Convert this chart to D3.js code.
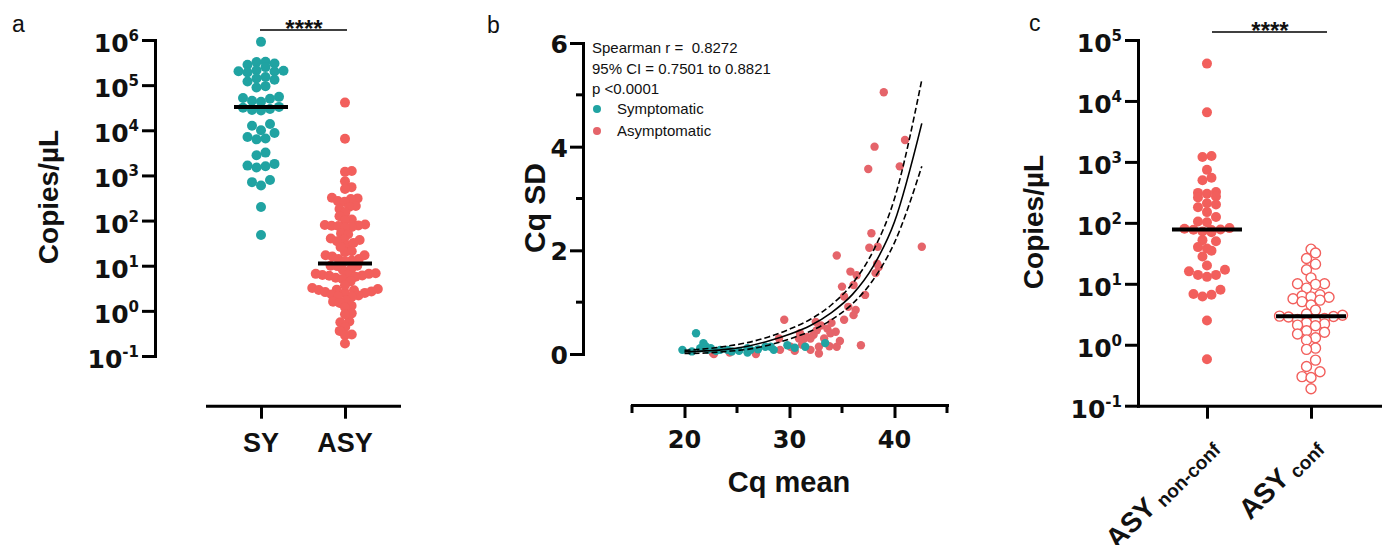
<!DOCTYPE html>
<html>
<head>
<meta charset="utf-8">
<script src="https://cdn.jsdelivr.net/npm/d3@7"></script>
<style>
body { margin: 0; background: #fff; }
text { font-family: "Liberation Sans", Arial, sans-serif; fill: #111; }
.num { font-family: "DejaVu Sans", sans-serif; font-weight: bold; }
</style>
</head>
<body>
<div id="viz"></div>
<script>
var width = 1387, height = 545;
var teal = "#20a3a2", red = "#f25f5c", redB = "#e5646a";

// ---- panel a: copies per uL, symptomatic vs asymptomatic
var groupsA = ["SY", "ASY"];
var decadesA = [-1, 0, 1, 2, 3, 4, 5, 6];
var syCopies = [910000, 331000, 324000, 302000, 282000, 251000, 214000, 209000, 204000, 200000,
    191000, 151000, 141000, 132000, 120000, 95000, 89000, 55000, 52000, 50000,
    45000, 43000, 33000, 31600, 29500, 28200, 27500, 13800, 12600, 10000,
    8700, 7100, 6600, 6300, 3200, 2800, 1800, 1650, 1600, 1500,
    790, 710, 600, 200, 48];

// ---- panel c: asymptomatic split (a's ASY group is both of these together)
var groupsC = ["non-conf", "conf"];
var decadesC = [-1, 0, 1, 2, 3, 4, 5];
var asyNonConf = [41000, 6500, 1250, 1200, 740, 550, 500, 320, 310, 300,
    270, 260, 210, 200, 180, 150, 125, 105, 102, 82,
    80, 78, 77, 76, 72, 70, 52, 50, 40, 38,
    35, 28, 20, 17, 16, 14, 14, 13, 8, 6.8,
    6.6, 6.2, 2.5, 0.58];
var asyConf = [37, 32, 26, 21, 17, 12.5, 10, 10, 9.8, 8.5,
    6.6, 6.3, 6.1, 6, 5.7, 5.4, 5.1, 4.5, 3.7, 3.2,
    3.05, 2.95, 2.9, 2.85, 2.7, 2.6, 2.5, 2.3, 2.2, 2.1,
    2.05, 1.7, 1.6, 1.5, 1.3, 1.2, 0.88, 0.84, 0.56, 0.44,
    0.36, 0.3, 0.29, 0.19];

// ---- panel b: Cq mean vs Cq SD
var symCq = [19.8, 20.7, 21.1, 21.5, 21.8, 22.0, 22.2, 22.5, 23.0, 23.4, 24.1, 24.5, 25.2, 26.0, 26.0, 26.3, 27.0, 27.7, 28.2, 28.5, 29.8, 30.5, 31.5, 33.4];
var symSd = [0.08, 0.05, 0.40, 0.11, 0.21, 0.15, 0.08, 0.11, 0.06, 0.08, 0.08, 0.05, 0.06, 0.11, 0.03, 0.08, 0.09, 0.14, 0.14, 0.08, 0.17, 0.12, 0.14, 0.21];
var asymCq = [38.98, 41.0, 38.1, 37.5, 40.5, 37.8, 37.6, 38.4, 42.6, 34.5, 38.35, 38.5, 38.2, 35.8, 36.4, 35.0, 36.1, 35.2, 37.2, 35.6,
    36.3, 36.1, 35.2, 29.5, 32.5, 32.6, 33.6, 33.9, 34.4, 31.0, 31.4, 30.9, 31.7, 32.3, 29.0, 32.0, 36.8, 34.5, 32.8, 32.0,
    32.8, 30.1, 29.1, 26.8, 22.8, 33.3, 22.7, 24.3, 33.0, 34.0, 34.8, 33.8, 31.2, 30.5];
var asymSd = [5.05, 4.13, 4.0, 3.57, 3.62, 2.33, 2.05, 2.07, 2.07, 1.9, 1.74, 1.68, 1.56, 1.59, 1.52, 1.3, 1.33, 1.11, 1.14, 0.91,
    0.85, 0.75, 0.66, 0.66, 0.62, 0.46, 0.49, 0.40, 0.43, 0.40, 0.30, 0.30, 0.33, 0.37, 0.30, 0.30, 0.17, 0.14, 0.14, 0.08,
    0.01, 0.14, 0.08, 0.0, 0.0, 0.30, 0.02, 0.03, 0.55, 0.60, 0.25, 0.15, 0.18, 0.06];
// fitted curve and its 95% band
var fitCq = [20, 22, 24, 26, 28, 30, 32, 34, 36, 38, 40, 42.6];
var fitSd = [0.04, 0.06, 0.09, 0.15, 0.25, 0.38, 0.55, 0.8, 1.15, 1.7, 2.55, 4.45];
var upperSd = [0.07, 0.10, 0.15, 0.22, 0.33, 0.48, 0.67, 0.95, 1.36, 2.0, 3.0, 5.29];
var lowerSd = [0.01, 0.02, 0.05, 0.09, 0.17, 0.29, 0.44, 0.66, 0.97, 1.44, 2.15, 3.62];
var statLines = ["Spearman r =\u00a0 0.8272", "95% CI = 0.7501 to 0.8821", "p <0.0001"];
var legendNames = ["Symptomatic", "Asymptomatic"];
var xMajorB = [20, 30, 40], xMinorB = [15, 25, 35, 45];
var yMajorB = [0, 2, 4, 6], yMinorB = [1, 3, 5];

var svg = d3.select("#viz").append("svg").attr("width", width).attr("height", height);
svg.append("rect").attr("width", width).attr("height", height).attr("fill", "#fff");

// rows of dots like a column scatter: points within one bin sit side by side
function rowLayout(ys, binH, sp) {
    var idx = d3.range(ys.length).sort(function (a, b) { return ys[b] - ys[a]; });
    var xs = new Array(ys.length);
    var row = [], y0 = null;
    function flush() {
        var n = row.length;
        var slots = d3.range(n).map(function (k) { return (k - (n - 1) / 2) * sp; });
        slots.sort(function (a, b) { return Math.abs(a) - Math.abs(b) || a - b; });
        row.forEach(function (i, k) { xs[i] = slots[k]; });
        row = [];
    }
    idx.forEach(function (i) {
        if (y0 === null || y0 - ys[i] >= binH) { flush(); y0 = ys[i]; }
        row.push(i);
    });
    flush();
    return xs;
}

// packed swarm: each dot goes to the free spot nearest the centre
function beeswarm(ys, d) {
    var order = d3.range(ys.length).sort(function (a, b) { return ys[b] - ys[a]; });
    var placed = [], xs = new Array(ys.length);
    order.forEach(function (i) {
        var y = ys[i];
        var near = placed.filter(function (p) { return Math.abs(p.y - y) < d; });
        var cands = [0];
        near.forEach(function (p) {
            var dx = Math.sqrt(d * d - (p.y - y) * (p.y - y));
            cands.push(p.x + dx, p.x - dx);
        });
        cands.sort(function (a, b) { return Math.abs(a) - Math.abs(b); });
        var x = cands.find(function (c) {
            return near.every(function (p) { return (p.x - c) * (p.x - c) + (p.y - y) * (p.y - y) >= d * d - 0.01; });
        });
        xs[i] = x;
        placed.push({x: x, y: y});
    });
    return xs;
}

function styleAxis(g) {
    g.select(".domain").attr("stroke-width", 3).attr("stroke-linecap", "square");
    g.selectAll(".tick line").attr("stroke-width", 3);
}

function logLabels(g, y, decades, axisX) {
    g.selectAll(".lab").data(decades).enter().append("text")
        .attr("class", "num")
        .attr("x", axisX - 16)
        .attr("y", function (d) { return y(Math.pow(10, d)) + 12; })
        .attr("text-anchor", "end")
        .each(function (d) {
            var t = d3.select(this);
            t.append("tspan").style("font-size", "25px").text("10");
            t.append("tspan").attr("dy", -11).style("font-size", "15px").text(d);
        });
}

function dotColumn(g, values, x, y, name, offsets, r, fill, open) {
    g.selectAll(null).data(values).enter().append("circle")
        .attr("cx", function (d, i) { return x(name) + offsets[i]; })
        .attr("cy", function (d) { return y(d); })
        .attr("r", r)
        .attr("fill", open ? "#fff" : fill)
        .attr("stroke", open ? fill : "none")
        .attr("stroke-width", open ? 1.4 : 0);
}

function medianLine(g, values, x, y, name, half) {
    var m = d3.median(values);
    g.append("line")
        .attr("x1", x(name) - half).attr("x2", x(name) + half)
        .attr("y1", y(m)).attr("y2", y(m))
        .attr("stroke", "#000").attr("stroke-width", 4);
}

function sigBar(g, x1, x2, yy, mid) {
    g.append("line").attr("x1", x1).attr("x2", x2).attr("y1", yy).attr("y2", yy)
        .attr("stroke", "#000").attr("stroke-width", 1.5);
    g.append("text").attr("x", mid).attr("y", yy + 7).attr("text-anchor", "middle")
        .style("font-size", "24px").style("font-weight", "bold").text("****");
}

// ================= panel a
var gA = svg.append("g");
var yA = d3.scaleLog().domain([0.1, 1e6]).range([356, 40]);
var xA = d3.scalePoint().domain(groupsA).range([207, 399]).padding(0.643);
var asyAll = asyNonConf.concat(asyConf);

gA.append("g").attr("transform", "translate(155,0)")
    .call(d3.axisLeft(yA).tickValues(decadesA.map(function (k) { return Math.pow(10, k); }))
        .tickFormat("").tickSize(13).tickSizeOuter(0))
    .call(styleAxis);
logLabels(gA, yA, decadesA, 155);

gA.append("g").attr("transform", "translate(0,405.7)")
    .call(d3.axisBottom(xA).tickFormat("").tickSize(13).tickSizeOuter(0))
    .call(styleAxis);
gA.selectAll(".xl").data(groupsA).enter().append("text")
    .attr("x", function (d) { return xA(d); }).attr("y", 452)
    .attr("text-anchor", "middle").style("font-size", "27px").style("font-weight", "bold")
    .text(function (d) { return d; });

gA.append("text").attr("transform", "translate(58,197) rotate(-90)")
    .attr("text-anchor", "middle").style("font-size", "28px").style("font-weight", "bold")
    .text("Copies/µL");
gA.append("text").attr("x", 12).attr("y", 32).style("font-size", "23px").text("a");

dotColumn(gA, syCopies, xA, yA, "SY", rowLayout(syCopies.map(yA), 8, 9), 5, teal, false);
dotColumn(gA, asyAll, xA, yA, "ASY", beeswarm(asyAll.map(yA), 6.8), 5, red, false);
medianLine(gA, syCopies, xA, yA, "SY", 27);
medianLine(gA, asyAll, xA, yA, "ASY", 27);
sigBar(gA, xA("SY") - 1, xA("ASY") + 2, 30, (xA("SY") + xA("ASY")) / 2 + 1);

// ================= panel b
var gB = svg.append("g");
var xB = d3.scaleLinear().domain([15, 45]).range([632, 947]);
var yB = d3.scaleLinear().domain([0, 6]).range([354, 43]);

gB.append("g").attr("transform", "translate(583,0)")
    .call(d3.axisLeft(yB).tickValues(yMajorB).tickFormat("").tickSize(13).tickSizeOuter(0))
    .call(styleAxis);
gB.selectAll(".ymin").data(yMinorB).enter().append("line")
    .attr("x1", 576).attr("x2", 583)
    .attr("y1", function (d) { return yB(d); }).attr("y2", function (d) { return yB(d); })
    .attr("stroke", "#000").attr("stroke-width", 3);
gB.selectAll(".yl").data(yMajorB).enter().append("text")
    .attr("class", "num").attr("x", 568).attr("y", function (d) { return yB(d) + 10; })
    .attr("text-anchor", "end").style("font-size", "25px")
    .text(function (d) { return d; });

gB.append("g").attr("transform", "translate(0,405)")
    .call(d3.axisBottom(xB).tickValues(xMajorB).tickFormat("").tickSize(13).tickSizeOuter(0))
    .call(styleAxis);
gB.selectAll(".xmin").data(xMinorB).enter().append("line")
    .attr("x1", function (d) { return xB(d); }).attr("x2", function (d) { return xB(d); })
    .attr("y1", 405).attr("y2", 413)
    .attr("stroke", "#000").attr("stroke-width", 3);
gB.selectAll(".xl").data(xMajorB).enter().append("text")
    .attr("class", "num").attr("x", function (d) { return xB(d); }).attr("y", 448)
    .attr("text-anchor", "middle").style("font-size", "24px")
    .text(function (d) { return d; });

gB.append("text").attr("x", 789).attr("y", 492).attr("text-anchor", "middle")
    .style("font-size", "29px").style("font-weight", "bold").text("Cq mean");
gB.append("text").attr("transform", "translate(545,208) rotate(-90)")
    .attr("text-anchor", "middle").style("font-size", "30px").style("font-weight", "bold")
    .text("Cq SD");
gB.append("text").attr("x", 487).attr("y", 33).style("font-size", "23px").text("b");

gB.selectAll(".asym").data(asymCq).enter().append("circle")
    .attr("cx", function (d) { return xB(d); })
    .attr("cy", function (d, i) { return yB(asymSd[i]); })
    .attr("r", 4.2).attr("fill", redB);
gB.selectAll(".sym").data(symCq).enter().append("circle")
    .attr("cx", function (d) { return xB(d); })
    .attr("cy", function (d, i) { return yB(symSd[i]); })
    .attr("r", 4.2).attr("fill", teal);

var curve = function (vals) {
    return d3.line().curve(d3.curveMonotoneX)
        .x(function (d) { return xB(d); })
        .y(function (d, i) { return yB(vals[i]); })(fitCq);
};
gB.append("path").attr("d", curve(fitSd)).attr("fill", "none").attr("stroke", "#000").attr("stroke-width", 1.6);
[upperSd, lowerSd].forEach(function (band) {
    gB.append("path").attr("d", curve(band)).attr("fill", "none").attr("stroke", "#000")
        .attr("stroke-width", 1.6).attr("stroke-dasharray", "6,3");
});

gB.selectAll(".stat").data(statLines).enter().append("text")
    .attr("x", 592).attr("y", function (d, i) { return 53 + i * 20.5; })
    .style("font-size", "15px").text(function (d) { return d; });
gB.selectAll(".legdot").data(legendNames).enter().append("circle")
    .attr("cx", 597).attr("cy", function (d, i) { return 109 + i * 22; })
    .attr("r", 4).attr("fill", function (d, i) { return i === 0 ? teal : redB; });
gB.selectAll(".legtxt").data(legendNames).enter().append("text")
    .attr("x", 617).attr("y", function (d, i) { return 114 + i * 22; })
    .style("font-size", "15px").text(function (d) { return d; });

// ================= panel c
var gC = svg.append("g");
var yC = d3.scaleLog().domain([0.1, 1e5]).range([405.7, 40]);
var xC = d3.scalePoint().domain(groupsC).range([1138, 1380]).padding(0.663);

gC.append("g").attr("transform", "translate(1138,0)")
    .call(d3.axisLeft(yC).tickValues(decadesC.map(function (k) { return Math.pow(10, k); }))
        .tickFormat("").tickSize(13).tickSizeOuter(0))
    .call(styleAxis);
logLabels(gC, yC, decadesC, 1138);

gC.append("g").attr("transform", "translate(0,405.7)")
    .call(d3.axisBottom(xC).tickFormat("").tickSize(13).tickSizeOuter(0))
    .call(styleAxis);
gC.selectAll(".xl").data(groupsC).enter().append("text")
    .attr("transform", function (d) { return "translate(" + (xC(d) + 12) + ",448) rotate(-45)"; })
    .attr("text-anchor", "end").style("font-weight", "bold")
    .each(function (d) {
        var t = d3.select(this);
        t.append("tspan").style("font-size", "28px").text("ASY");
        t.append("tspan").attr("dy", 4).style("font-size", "19px").text(" " + d);
    });

gC.append("text").attr("transform", "translate(1043,222) rotate(-90)")
    .attr("text-anchor", "middle").style("font-size", "28px").style("font-weight", "bold")
    .text("Copies/µL");
gC.append("text").attr("x", 1029).attr("y", 31).style("font-size", "23px").text("c");

dotColumn(gC, asyNonConf, xC, yC, "non-conf", rowLayout(asyNonConf.map(yC), 8, 9), 5, red, false);
dotColumn(gC, asyConf, xC, yC, "conf", rowLayout(asyConf.map(yC), 8, 9), 5, red, true);
medianLine(gC, asyNonConf, xC, yC, "non-conf", 35);
medianLine(gC, asyConf, xC, yC, "conf", 35);
sigBar(gC, xC("non-conf") + 5, xC("conf") + 16, 32, (xC("non-conf") + xC("conf")) / 2 + 11);
</script>
</body>
</html>
